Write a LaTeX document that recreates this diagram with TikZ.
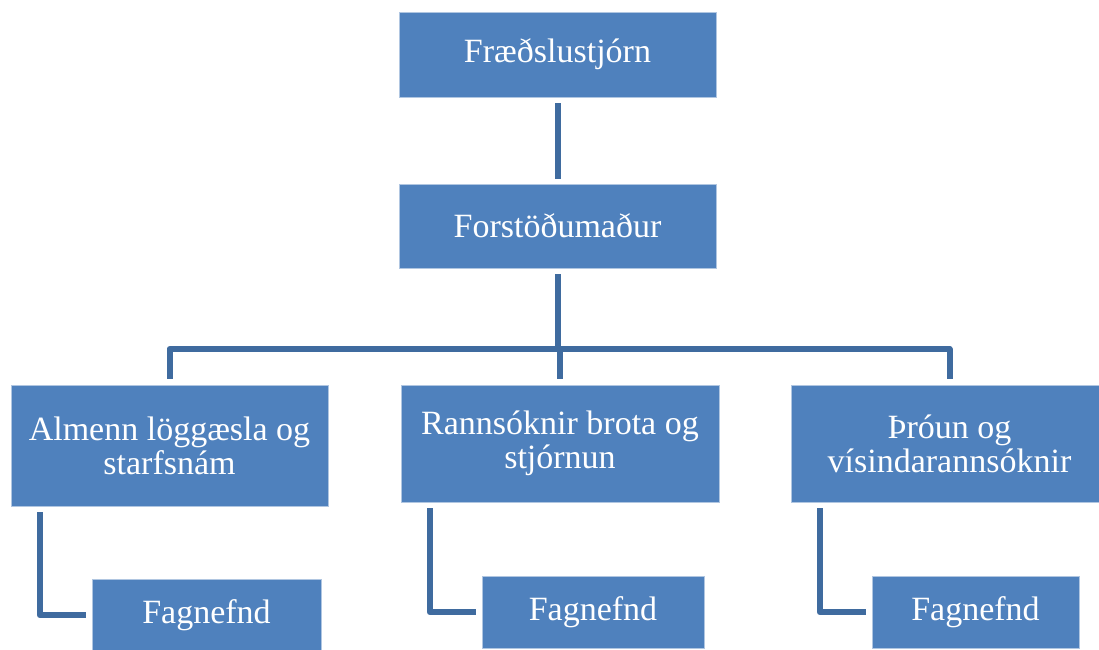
\documentclass[tikz,border=0pt]{standalone}
\usepackage{fontspec}
\setmainfont{Liberation Serif}
\definecolor{boxblue}{HTML}{4F81BD}
\definecolor{lineblue}{HTML}{3F6B9F}
\begin{document}
\begin{tikzpicture}[x=1pt,y=-1pt,
  box/.style={rectangle, fill=boxblue, draw=white!55!boxblue, line width=0.8pt, inner sep=0pt,
    text=white, align=center, font=\fontsize{34}{34}\selectfont},
  conn/.style={draw=lineblue, line width=6pt, line join=round, line cap=butt}]
\useasboundingbox (0,0) rectangle (1099,649);
\clip (0,0) rectangle (1099,649);
\fill[white] (0,0) rectangle (1099,649);
\node[box, minimum width=317pt, minimum height=85pt] (top) at (557.5,54.5) {Fræðslustjórn};
\node[box, minimum width=317pt, minimum height=84pt] (mid) at (557.5,226) {Forstöðumaður};
\node[box, minimum width=317pt, minimum height=121pt] (L) at (169.5,445.5) {Almenn löggæsla og\\starfsnám};
\node[box, minimum width=318pt, minimum height=117pt] (M) at (560,443.5) {Rannsóknir brota og\\stjórnun};
\node[box, minimum width=317pt, minimum height=117pt] (R) at (949.5,443.5) {Þróun og\\vísindarannsóknir};
\node[box, minimum width=229pt, minimum height=72pt] (LF) at (206.5,615) {Fagnefnd};
\node[box, minimum width=222pt, minimum height=72pt] (MF) at (593,612) {Fagnefnd};
\node[box, minimum width=207pt, minimum height=72pt] (RF) at (975.5,612) {Fagnefnd};
\coordinate (bar) at (557.5,349);
\draw[conn] ([yshift=-6pt]top.south) -- ([yshift=5pt]mid.north);
\draw[conn] ([yshift=-6pt]mid.south) -- (bar);
\draw[conn] ([yshift=6pt]L.north) |- (bar) -| ([yshift=6pt]R.north);
\draw[conn] ([yshift=6pt]M.north) -- (M.north |- bar);
\draw[conn] ([xshift=29pt,yshift=-6pt]L.south west) |- ([xshift=-6pt]LF.west);
\draw[conn] ([xshift=29pt,yshift=-6pt]M.south west) |- ([xshift=-6pt]MF.west);
\draw[conn] ([xshift=29pt,yshift=-6pt]R.south west) |- ([xshift=-6pt]RF.west);
\end{tikzpicture}
\end{document}
